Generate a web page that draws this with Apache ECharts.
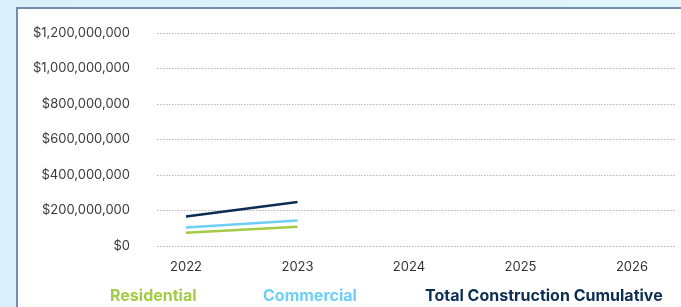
<html>
<head>
<meta charset="utf-8">
<style>
  html, body { margin: 0; padding: 0; width: 681px; height: 307px; overflow: hidden; }
  body { background: linear-gradient(90deg, #d9f0fa 0%, #e2f5fb 100%); }
  #panel { position: absolute; left: 16px; top: 7px; width: 700px; height: 320px;
           background: #fff; border: 2px solid #7290ae; box-sizing: border-box; }
  #main { position: absolute; left: 0; top: 0; width: 681px; height: 307px; }
</style>
</head>
<body>
<div id="panel"></div>
<div id="main"></div>
<script src="https://cdn.jsdelivr.net/npm/echarts@6/dist/echarts.min.js"></script>
<script>
  var years = ['2022', '2023', '2024', '2025', '2026'];
  var residential = [74000000, 109000000, null, null, null];
  var commercial = [104000000, 143000000, null, null, null];
  var totalCumulative = [166000000, 248000000, null, null, null];
  var seriesNames = ['Residential', 'Commercial', 'Total Construction Cumulative'];
  var colors = ['#a3cb45', '#6dcff6', '#0c2d52'];
  var legendLeft = [100, 253, 415];

  var myChart = echarts.init(document.getElementById('main'), null, { renderer: 'canvas' });

  function money(v) {
    return '$' + v.toString().replace(/\B(?=(\d{3})+(?!\d))/g, ',');
  }

  var font = 'Inter, "Noto Sans", sans-serif';
  var lineData = [residential, commercial, totalCumulative];

  var option = {
    backgroundColor: 'transparent',
    grid: [
      { left: 157, right: 6, top: 33, bottom: 61 },
      { left: 186, right: 49, top: 33, bottom: 61 }
    ],
    xAxis: [
      { gridIndex: 0, type: 'value', show: false, min: 0, max: 1 },
      {
        gridIndex: 1, type: 'category', data: years, boundaryGap: false,
        axisLine: { show: false }, axisTick: { show: false },
        axisLabel: { color: '#333', fontSize: 13, fontFamily: font, margin: 15 }
      }
    ],
    yAxis: [
      {
        gridIndex: 0, type: 'value', min: 0, max: 1200000000, interval: 200000000,
        axisLine: { show: false }, axisTick: { show: false },
        axisLabel: { color: '#3a3a3a', fontSize: 13, fontFamily: font, margin: 27, formatter: money },
        splitLine: { lineStyle: { color: '#b3b3b3', type: [1.5, 1.5], width: 1 } }
      },
      {
        gridIndex: 1, type: 'value', min: 0, max: 1200000000, interval: 200000000,
        show: false, splitLine: { show: false }
      }
    ],
    // one legend per name so each can sit where the reference has it
    legend: seriesNames.map(function (n, i) {
      return {
        top: 283, left: legendLeft[i], icon: 'none', itemWidth: 0, itemHeight: 0,
        data: [{ name: n }],
        textStyle: { color: colors[i], fontSize: 16, fontWeight: 'bold', fontFamily: font }
      };
    }),
    series: seriesNames.map(function (n, i) {
      return {
        name: n, type: 'line', xAxisIndex: 1, yAxisIndex: 1,
        data: lineData[i], symbol: 'none', color: colors[i],
        lineStyle: { width: 2.5, color: colors[i] }, animation: false
      };
    })
  };

  myChart.setOption(option);
</script>
</body>
</html>
